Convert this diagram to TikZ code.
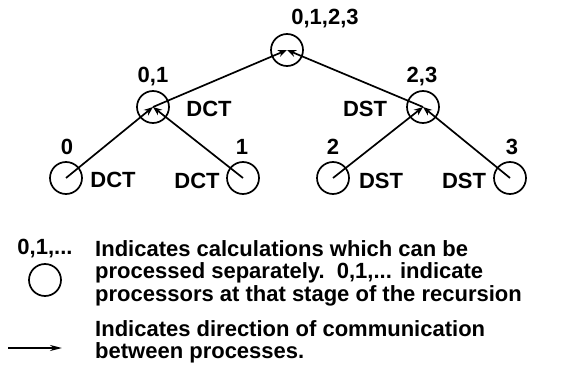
\documentclass[tikz,border=0pt]{standalone}
\usepackage{fontspec}
\setmainfont{Liberation Sans}
\usetikzlibrary{arrows.meta}
\begin{document}
\begin{tikzpicture}[x=1pt,y=-1pt,
  proc/.style={circle,draw,line width=1.7pt,minimum size=32pt,inner sep=0pt},
  lbl/.style={font=\bfseries\fontsize{22}{22}\selectfont,inner sep=0pt},
  legtext/.style={font=\bfseries\fontsize{22}{22.5}\selectfont,inner sep=0pt,align=left,anchor=north west},
  comm/.style={line width=1.7pt,-{Stealth[length=9pt,width=7pt]}}]
\useasboundingbox (0,0) rectangle (561,371);

% recursion tree
\node[proc] (top) at (287,50) {};
\node[proc] (ml) at (153,107) {};
\node[proc] (mr) at (423,107) {};
\node[proc] (l0) at (66,178) {};
\node[proc] (l1) at (243,178) {};
\node[proc] (l2) at (333,178) {};
\node[proc] (l3) at (510,178) {};

\node[lbl] (ttop) at (325,19) {0,1,2,3};
\node[lbl] (tml) at (153,77) {0,1};
\node[lbl] (tmr) at (422,77) {2,3};
\node[lbl] (dml) at (209,109) {DCT};
\node[lbl] (dmr) at (365,109) {DST};
\node[lbl] (t0) at (67,147) {0};
\node[lbl] (t1) at (242,147) {1};
\node[lbl] (t2) at (333,147) {2};
\node[lbl] (t3) at (512,147) {3};
\node[lbl] (d0) at (113,180) {DCT};
\node[lbl] (d1) at (197,181) {DCT};
\node[lbl] (d2) at (381,181) {DST};
\node[lbl] (d3) at (464,181) {DST};

\draw[comm] (l0.center) -- (ml.center);
\draw[comm] (l1.center) -- (ml.center);
\draw[comm] (l2.center) -- (mr.center);
\draw[comm] (l3.center) -- (mr.center);
\draw[comm] (ml.center) -- (top.center);
\draw[comm] (mr.center) -- (top.center);

% legend
\node[lbl] (legnum) at (45,249) {0,1,...};
\node[proc] (legcirc) at (45,280) {};
\node[legtext] (legone) at (95,240) {Indicates calculations which can be\\processed separately.\ \ 0,1,... indicate\\processors at that stage of the recursion};
\coordinate (arrA) at (8,348);
\coordinate (arrB) at (62,348);
\draw[line width=1.7pt,-{Stealth[length=12pt,width=6pt]}] (arrA) -- (arrB);
\node[legtext] (legtwo) at (95,320) {Indicates direction of communication\\between processes.};
\end{tikzpicture}
\end{document}
